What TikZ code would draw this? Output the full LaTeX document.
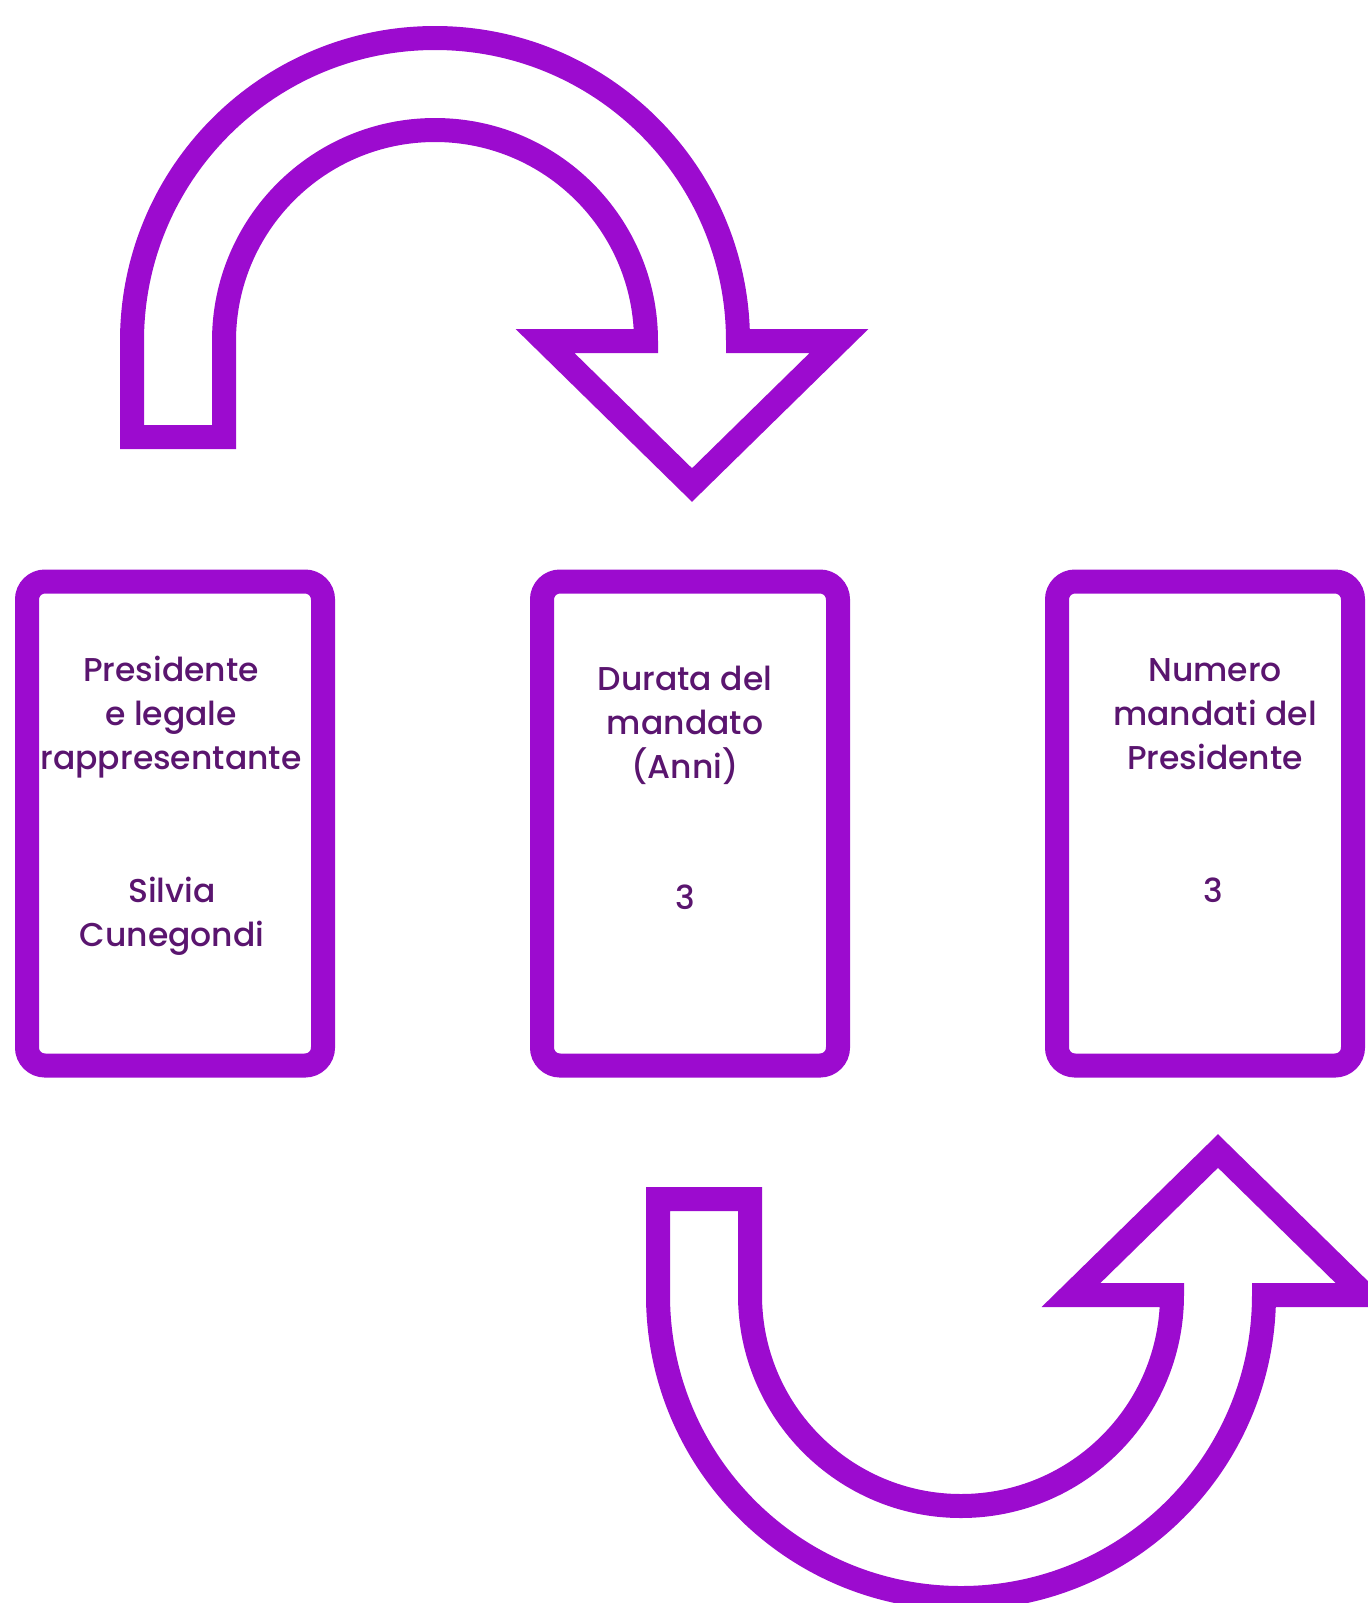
\documentclass[tikz,border=0pt]{standalone}
\usepackage{fontspec}
\setmainfont{Poppins}[UprightFont=* Medium]
\definecolor{cardviolet}{HTML}{9C0BCF}
\definecolor{cardink}{HTML}{5A156F}
\tikzset{
  card/.style={draw=cardviolet, line width=12pt, rounded corners=9pt,
    minimum width=148pt, minimum height=242pt, inner sep=0pt},
  cardtext/.style={text=cardink, align=center, inner sep=0pt,
    font=\fontsize{16.5pt}{22pt}\selectfont, anchor=base},
  bigarrow/.style={draw=cardviolet, line width=12pt, miter limit=10}
}
\begin{document}
\begin{tikzpicture}[x=0.5pt,y=-0.5pt]
\useasboundingbox (0,0) rectangle (1368,1603);
\begin{scope}[shift={(435,341)}]    % arrow over the top
\draw[bigarrow] (-303,96) -- (-303,0) arc[start angle=180, end angle=360, radius=303]
  -- (404,0) -- (257,144) -- (110,0) -- (211,0)
  arc[start angle=360, end angle=180, radius=211] -- (-211,96) -- cycle;
\end{scope}
\begin{scope}[shift={(961,1295)}, yscale=-1]   % arrow under the bottom
\draw[bigarrow] (-303,96) -- (-303,0) arc[start angle=180, end angle=360, radius=303]
  -- (404,0) -- (257,144) -- (110,0) -- (211,0)
  arc[start angle=360, end angle=180, radius=211] -- (-211,96) -- cycle;
\end{scope}
\node[card] (pres) at (175,823.5) {};
\node[card] (durata) at (690,823.5) {};
\node[card] (numero) at (1205,823.5) {};
% base anchor sits on the last line
\node[cardtext] (presLabel) at (171,769) {Presidente\\e legale\\rappresentante};
\node[cardtext] (presName) at (172,946) {Silvia\\Cunegondi};
\node[cardtext] (durataLabel) at (685,778) {Durata del\\mandato\\(Anni)};
\node[cardtext] (durataVal) at (685,909) {3};
\node[cardtext] (numeroLabel) at (1215,769) {Numero\\mandati del\\Presidente};
\node[cardtext] (numeroVal) at (1213,902) {3};
\end{tikzpicture}
\end{document}
